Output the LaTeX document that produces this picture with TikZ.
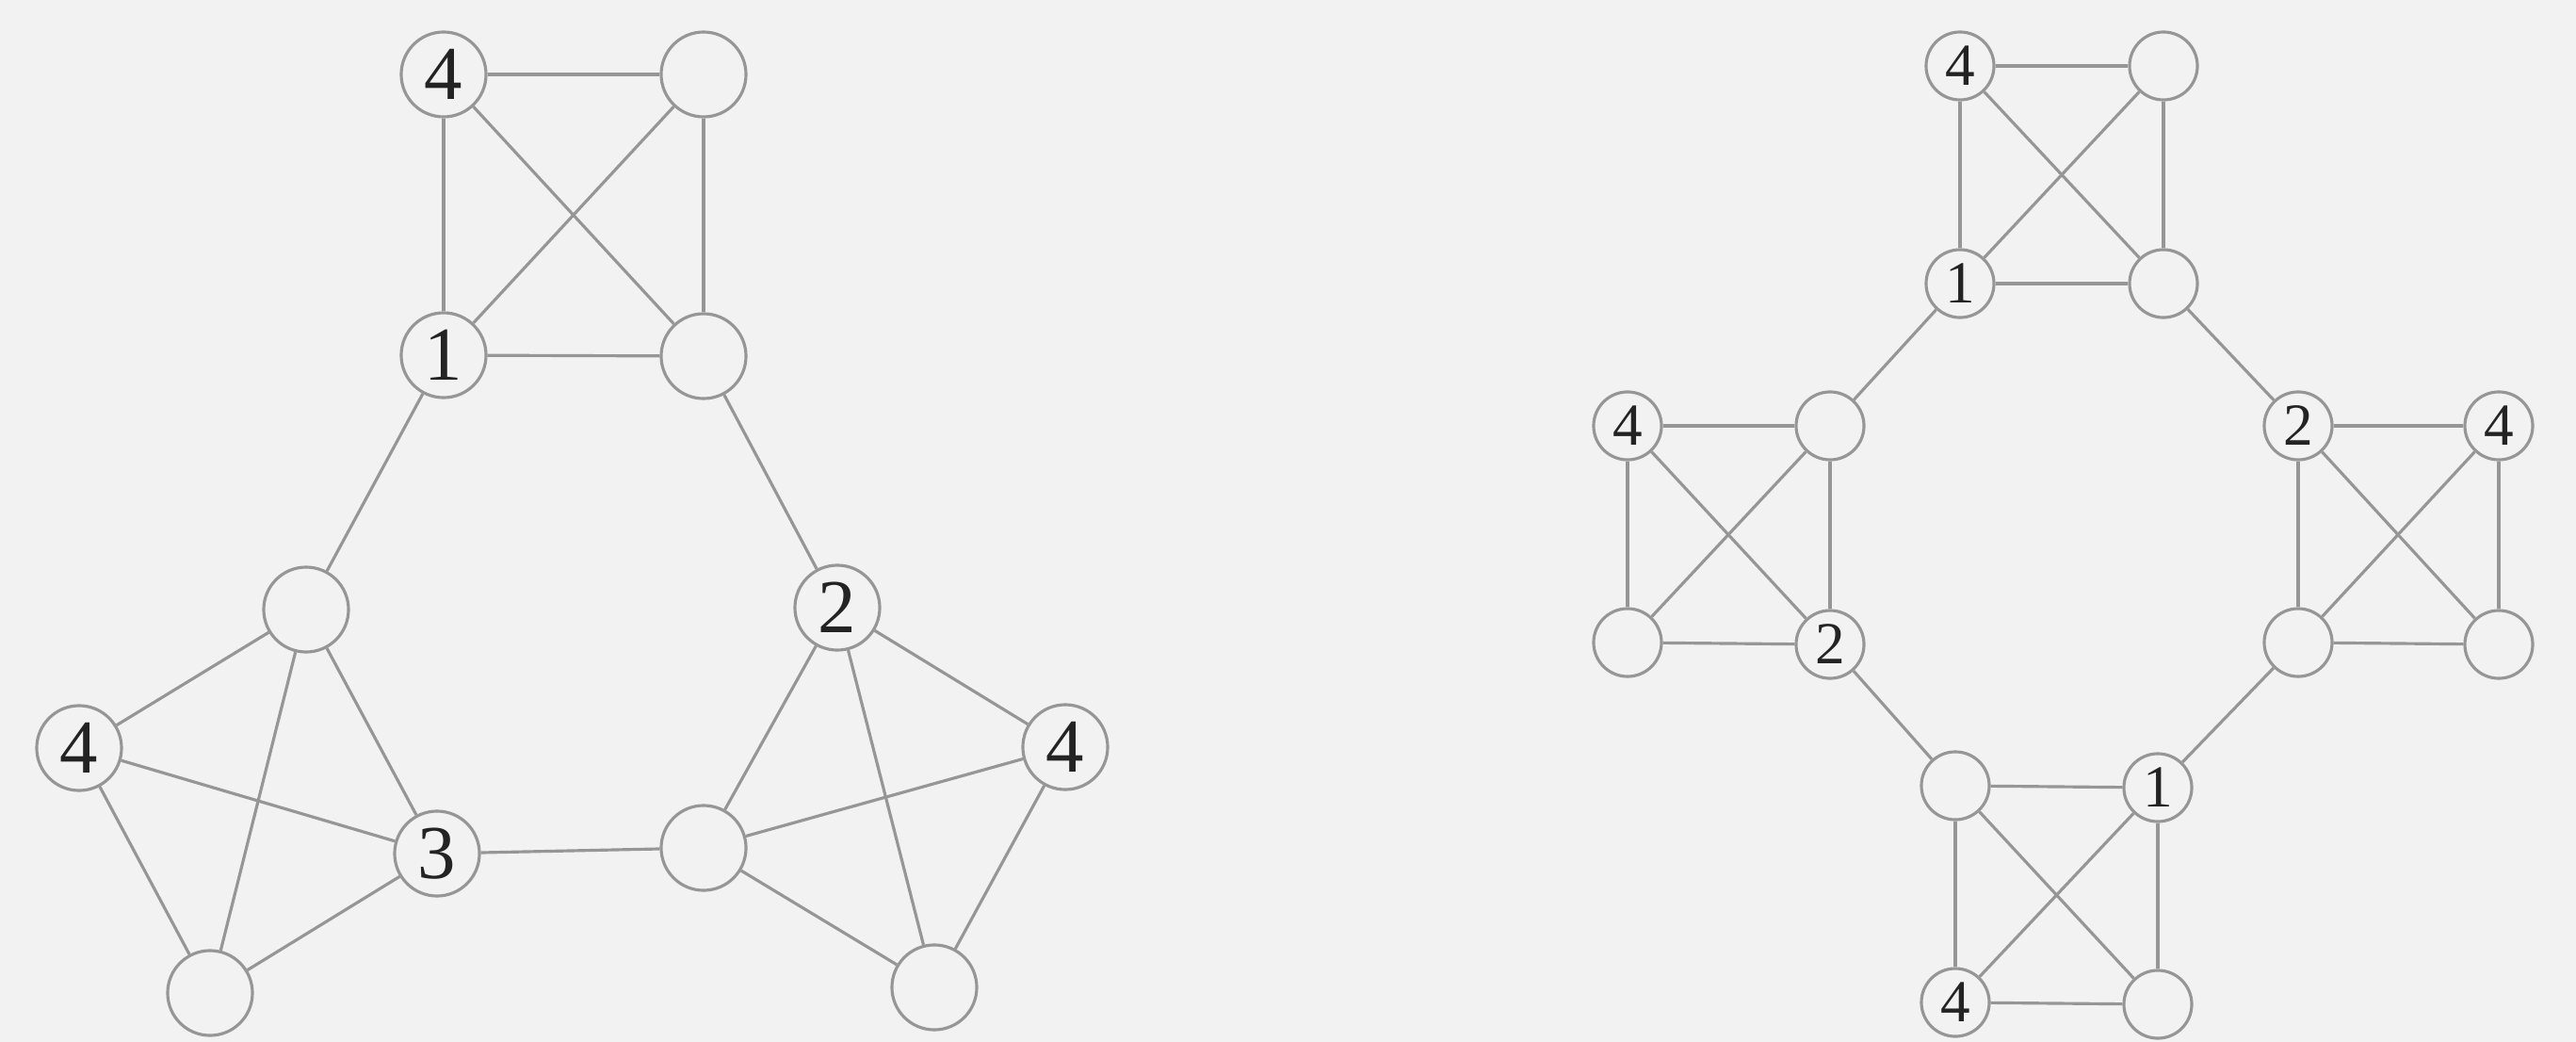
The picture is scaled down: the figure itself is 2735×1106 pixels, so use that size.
\documentclass[tikz,border=0pt]{standalone}
\usepackage{fontspec}
\setmainfont{Liberation Serif}
\definecolor{bg}{RGB}{242,242,242}
\definecolor{edgegray}{RGB}{150,150,150}
\definecolor{ink}{RGB}{35,35,35}

\begin{document}
\begin{tikzpicture}[x=0.01cm,y=-0.01cm,
    vbig/.style={circle,draw=edgegray,line width=0.9pt,fill=bg,minimum size=0.9cm,
                 inner sep=0pt,text=ink,font=\fontsize{23}{24}\selectfont},
    vsmall/.style={circle,draw=edgegray,line width=0.9pt,fill=bg,minimum size=0.72cm,
                 inner sep=0pt,text=ink,font=\fontsize{18}{20}\selectfont},
    edge/.style={draw=edgegray,line width=0.9pt}]
  % background, same size as the reference
  \fill[bg] (0,0) rectangle (2735,1106);
  \useasboundingbox (0,0) rectangle (2735,1106);

  % left graph: three K4 joined in a triangle
  \node[vbig] (a1) at (471,79)   {4};
  \node[vbig] (a2) at (747,79)   {};
  \node[vbig] (a3) at (471,377)  {1};
  \node[vbig] (a4) at (747,378)  {};
  \node[vbig] (b1) at (325,647)  {};
  \node[vbig] (b2) at (84,794)   {4};
  \node[vbig] (b3) at (464,906)  {3};
  \node[vbig] (b4) at (223,1054) {};
  \node[vbig] (c1) at (889,645)  {2};
  \node[vbig] (c2) at (1131,793) {4};
  \node[vbig] (c3) at (747,900)  {};
  \node[vbig] (c4) at (992,1048) {};

  % right graph: four K4 joined in a ring
  \node[vsmall] (t1) at (2081,70)   {4};
  \node[vsmall] (t2) at (2297,70)   {};
  \node[vsmall] (t3) at (2081,301)  {1};
  \node[vsmall] (t4) at (2297,301)  {};
  \node[vsmall] (l1) at (1728,452)  {4};
  \node[vsmall] (l2) at (1943,452)  {};
  \node[vsmall] (l3) at (1728,682)  {};
  \node[vsmall] (l4) at (1943,684)  {2};
  \node[vsmall] (r1) at (2440,452)  {2};
  \node[vsmall] (r2) at (2653,452)  {4};
  \node[vsmall] (r3) at (2440,682)  {};
  \node[vsmall] (r4) at (2653,684)  {};
  \node[vsmall] (d1) at (2076,834)  {};
  \node[vsmall] (d2) at (2291,836)  {1};
  \node[vsmall] (d3) at (2076,1064) {4};
  \node[vsmall] (d4) at (2291,1066) {};

  % edges inside every K4
  \foreach \c in {a,b,c,t,l,r,d}{
    \foreach \i/\j in {1/2,1/3,1/4,2/3,2/4,3/4}
      \draw[edge] (\c\i) -- (\c\j);
  }
  % links between the blocks
  \foreach \u/\v in {a3/b1,a4/c1,b3/c3,t3/l2,t4/r1,l4/d1,r3/d2}
    \draw[edge] (\u) -- (\v);
\end{tikzpicture}
\end{document}
